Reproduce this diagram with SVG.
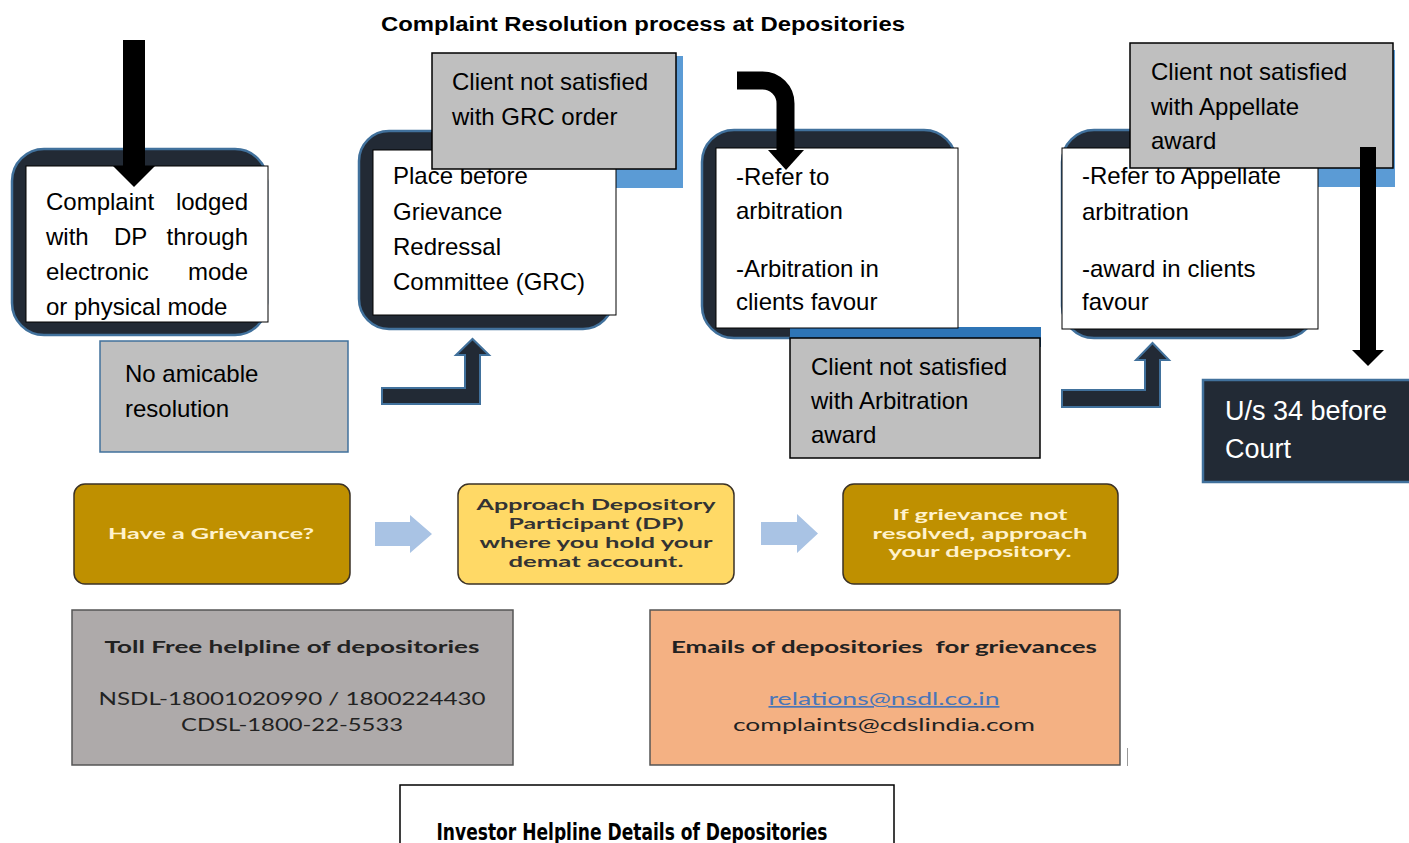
<svg xmlns="http://www.w3.org/2000/svg" width="1409" height="843" viewBox="0 0 1409 843">
<style>
.t{font-family:"Liberation Sans",Arial,sans-serif;font-size:24px;fill:#000}
.frame{fill:#222a35;stroke:#41719c;stroke-width:2.5}
.white{fill:#fff;stroke:#000;stroke-width:1}
.gray{fill:#bfbfbf;stroke:#000;stroke-width:1.5}
.blue{fill:#5b9bd5}
.blk{fill:#000}
.bent{fill:#222a35;stroke:#41719c;stroke-width:2}
.lb{fill:#a9c3e4}
.gold{fill:#bf9000;stroke:#3b3226;stroke-width:1.5}
.yel{fill:#ffd966;stroke:#3b3226;stroke-width:1.5}
.lt{font-family:Lato,"Liberation Sans",sans-serif;font-size:16px;font-weight:bold;text-anchor:middle}
.cr{fill:#fff2cc}
.dk{fill:#333}
.bt{font-family:Lato,"Liberation Sans",sans-serif;font-size:17px;text-anchor:middle;fill:#222}
</style>
<rect width="1409" height="843" fill="#fff"/>
<text x="643" y="31" font-family="Liberation Sans,Arial,sans-serif" font-size="20" font-weight="bold" text-anchor="middle" textLength="524" lengthAdjust="spacingAndGlyphs">Complaint Resolution process at Depositories</text>

<g id="node-complaint">
<rect class="frame" x="12" y="149" width="255" height="186" rx="32"/>
<rect class="white" x="26" y="166" width="242" height="156"/>
<text class="t" x="46" y="210">Complaint</text><text class="t" x="248" y="210" text-anchor="end">lodged</text>
<text class="t" x="46" y="245">with</text><text class="t" x="114" y="245">DP</text><text class="t" x="248" y="245" text-anchor="end">through</text>
<text class="t" x="46" y="280">electronic</text><text class="t" x="248" y="280" text-anchor="end">mode</text>
<text class="t" x="46" y="315">or physical mode</text>
</g>

<g id="node-no-amicable">
<rect x="100" y="341" width="248" height="111" fill="#bfbfbf" stroke="#41719c" stroke-width="1.5"/>
<text class="t" x="125" y="382">No amicable</text>
<text class="t" x="125" y="417">resolution</text>
</g>

<g id="node-grc">
<rect class="frame" x="359" y="131" width="254" height="198" rx="30"/>
<rect class="blue" x="440" y="56" width="243" height="132"/>
<rect class="white" x="373" y="150" width="243" height="165"/>
<text class="t" x="393" y="184">Place before</text>
<text class="t" x="393" y="220">Grievance</text>
<text class="t" x="393" y="255">Redressal</text>
<text class="t" x="393" y="290">Committee (GRC)</text>
</g>

<g id="node-grc-not-satisfied">
<rect class="gray" x="432" y="53" width="244" height="116"/>
<text class="t" x="452" y="90">Client not satisfied</text>
<text class="t" x="452" y="125">with GRC order</text>
</g>

<g id="node-arbitration">
<rect class="frame" x="702" y="130" width="254" height="208" rx="32"/>
<rect x="790" y="327" width="251" height="20" fill="#2e75b6"/>
<rect class="white" x="716" y="148" width="242" height="180"/>
<text class="t" x="736" y="185">-Refer to</text>
<text class="t" x="736" y="219">arbitration</text>
<text class="t" x="736" y="277">-Arbitration in</text>
<text class="t" x="736" y="310">clients favour</text>
</g>

<g id="node-arb-not-satisfied">
<rect class="gray" x="790" y="338" width="250" height="120"/>
<text class="t" x="811" y="375">Client not satisfied</text>
<text class="t" x="811" y="409">with Arbitration</text>
<text class="t" x="811" y="443">award</text>
</g>

<g id="node-appellate">
<rect class="frame" x="1062" y="130" width="254" height="208" rx="32"/>
<rect class="blue" x="1140" y="50" width="255" height="137"/>
<rect class="white" x="1062" y="148" width="256" height="181"/>
<text class="t" x="1082" y="184">-Refer to Appellate</text>
<text class="t" x="1082" y="220">arbitration</text>
<text class="t" x="1082" y="277">-award in clients</text>
<text class="t" x="1082" y="310">favour</text>
</g>

<g id="node-app-not-satisfied">
<rect class="gray" x="1130" y="43" width="263" height="125"/>
<text class="t" x="1151" y="80">Client not satisfied</text>
<text class="t" x="1151" y="115">with Appellate</text>
<text class="t" x="1151" y="149">award</text>
</g>

<g id="node-court">
<rect x="1203" y="380" width="212" height="102" fill="#222a35" stroke="#41719c" stroke-width="2.5"/>
<text x="1225" y="420" font-family="Liberation Sans,Arial,sans-serif" font-size="27" fill="#fff">U/s 34 before</text>
<text x="1225" y="458" font-family="Liberation Sans,Arial,sans-serif" font-size="27" fill="#fff">Court</text>
</g>

<g id="connectors">
<polygon class="blk" points="123,40 145,40 145,166 155,166 134,187 113,166 123,166"/>
<polygon class="bent" points="382,388 465,388 465,355 456,355 472.5,339 489,355 480,355 480,404 382,404"/>
<path d="M737,80.5 H762.5 A23,23 0 0 1 785.5,103.5 V151" fill="none" stroke="#000" stroke-width="18"/>
<polygon class="blk" points="768,150 804,150 786,170"/>
<polygon class="bent" points="1062,390 1145,390 1145,360 1136,360 1152.5,343 1169,360 1160,360 1160,407 1062,407"/>
<polygon class="blk" points="1360,147 1376,147 1376,350 1384,350 1368,366 1352,350 1360,350"/>
<polygon class="lb" points="375,522 410,522 410,515 432,534 410,553 410,546 375,546"/>
<polygon class="lb" points="761,522 797,522 797,514 818,533.5 797,553 797,545 761,545"/>
</g>

<g id="node-have-grievance">
<rect class="gold" x="74" y="484" width="276" height="100" rx="11"/>
<text class="lt cr" x="211" y="539" textLength="206" lengthAdjust="spacingAndGlyphs">Have a Grievance?</text>
</g>

<g id="node-approach-dp">
<rect class="yel" x="458" y="484" width="276" height="100" rx="11"/>
<text class="lt dk" x="596" y="510" textLength="239" lengthAdjust="spacingAndGlyphs">Approach Depository</text>
<text class="lt dk" x="596" y="529" textLength="175" lengthAdjust="spacingAndGlyphs">Participant (DP)</text>
<text class="lt dk" x="596" y="548" textLength="233" lengthAdjust="spacingAndGlyphs">where you hold your</text>
<text class="lt dk" x="596" y="567" textLength="175" lengthAdjust="spacingAndGlyphs">demat account.</text>
</g>

<g id="node-approach-depository">
<rect class="gold" x="843" y="484" width="275" height="100" rx="11"/>
<text class="lt cr" x="980" y="520" textLength="175" lengthAdjust="spacingAndGlyphs">If grievance not</text>
<text class="lt cr" x="980" y="539" textLength="215" lengthAdjust="spacingAndGlyphs">resolved, approach</text>
<text class="lt cr" x="980" y="557" textLength="183" lengthAdjust="spacingAndGlyphs">your depository.</text>
</g>

<g id="node-tollfree">
<rect x="72" y="610" width="441" height="155" fill="#aeaaaa" stroke="#555" stroke-width="1.5"/>
<text class="bt" x="292" y="653" font-weight="bold" textLength="375" lengthAdjust="spacingAndGlyphs">Toll Free helpline of depositories</text>
<text class="bt" x="292" y="705" textLength="387" lengthAdjust="spacingAndGlyphs">NSDL-18001020990 / 1800224430</text>
<text class="bt" x="292" y="731" textLength="222" lengthAdjust="spacingAndGlyphs">CDSL-1800-22-5533</text>
</g>

<g id="node-emails">
<rect x="650" y="610" width="470" height="155" fill="#f4b183" stroke="#555" stroke-width="1.5"/>
<text class="bt" x="884" y="653" font-weight="bold" textLength="426" lengthAdjust="spacingAndGlyphs" xml:space="preserve">Emails of depositories  for grievances</text>
<text class="bt" x="884" y="705" textLength="231" lengthAdjust="spacingAndGlyphs" style="fill:#4a76b8;text-decoration:underline">relations@nsdl.co.in</text>
<text class="bt" x="884" y="731" textLength="302" lengthAdjust="spacingAndGlyphs">complaints@cdslindia.com</text>
<line x1="1127.5" y1="748" x2="1127.5" y2="766" stroke="#999" stroke-width="1"/>
</g>

<g id="node-investor-helpline">
<rect x="400" y="785" width="494" height="80" fill="#fff" stroke="#000" stroke-width="1.5"/>
<text x="632" y="840" font-family="DejaVu Sans Condensed,DejaVu Sans,sans-serif" font-stretch="condensed" font-size="23" font-weight="bold" text-anchor="middle" textLength="391" lengthAdjust="spacingAndGlyphs">Investor Helpline Details of Depositories</text>
</g>
</svg>
